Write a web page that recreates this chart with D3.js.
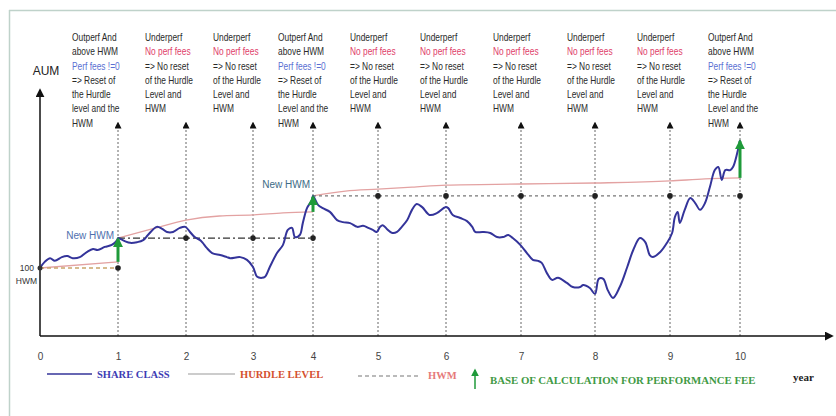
<!DOCTYPE html>
<html><head><meta charset="utf-8">
<script src="https://cdn.jsdelivr.net/npm/d3@7"></script>
<style>
html,body{margin:0;padding:0;background:#fff;}
svg{display:block;}
</style></head>
<body>
<svg id="chart" width="836" height="416"></svg>
<script>
// ---------------- DATA ----------------
const years = [0,1,2,3,4,5,6,7,8,9,10];
const tickLabels = ["0","1","2","3","4","5","6","7","8","9","10"];

const shareClassT = [0,0.06,0.13,0.19,0.28,0.35,0.42,0.51,0.60,0.68,0.74,0.83,0.92,0.99,1.0,
 1.10,1.18,1.28,1.37,1.44,1.57,1.65,1.72,1.81,1.91,1.99,
 2.06,2.13,2.21,2.25,2.31,2.39,2.51,2.61,2.66,2.81,2.91,3.0,
 3.07,3.15,3.20,3.28,3.40,3.50,3.58,3.65,3.70,3.78,3.83,3.90,3.98,4.0,
 4.08,4.15,4.26,4.37,4.46,4.57,4.68,4.77,4.85,4.92,4.98,
 5.03,5.07,5.13,5.21,5.28,5.35,5.43,5.50,5.57,5.65,5.76,5.87,5.99,
 6.03,6.09,6.19,6.28,6.35,6.39,6.49,6.59,6.68,6.76,6.83,6.89,6.99,
 7.08,7.16,7.23,7.28,7.35,7.42,7.50,7.62,7.70,7.80,7.84,7.93,8.0,
 8.05,8.11,8.17,8.24,8.33,8.43,8.51,8.60,8.67,8.73,8.77,8.87,8.96,
 9.03,9.07,9.11,9.14,9.21,9.29,9.36,9.43,9.50,9.57,9.64,9.69,9.74,9.79,9.86,9.90,9.96,10.0];
const shareClassV = [100.0,101.8,102.9,102.1,103.2,103.5,102.9,103.2,104.7,105.6,105.3,106.2,106.8,108.2,108.8,
 107.9,107.4,107.6,108.2,109.7,112.1,111.5,110.6,110.6,111.8,112.1,
 110.6,109.1,108.2,107.4,105.9,104.4,103.8,103.2,102.9,103.2,102.4,100.3,
 97.4,97.1,97.4,100.3,104.4,106.8,111.2,111.8,109.1,109.7,113.2,117.6,119.9,121.2,
 118.5,117.6,116.5,114.1,113.5,113.2,112.1,112.4,111.8,111.2,110.6,
 112.1,112.6,111.5,110.3,110.6,112.1,114.1,117.1,118.8,117.9,115.6,116.2,117.9,
 117.6,115.6,114.7,113.8,112.1,110.6,110.6,110.3,109.1,109.1,109.7,108.8,106.8,
 104.4,102.4,102.1,101.5,98.5,96.5,97.1,95.6,94.4,94.4,95.0,94.1,92.4,
 96.8,96.8,93.5,91.2,94.4,100.3,105.3,108.8,107.6,103.8,103.2,104.7,107.4,
 110.3,115.0,116.5,113.2,117.1,120.6,119.1,117.1,119.1,123.8,128.8,129.7,125.9,128.8,128.8,129.7,133.8,137.6];

// hurdle level (null = reset break)
const hurdleT = [0,1,1, 1,1.5,2,2.5,3,3.5,4,4, 4,4.5,5,5.5,6,7,8,9,9.5,10];
const hurdleV = [100,101.8,null, 108.8,111.5,114.1,115.3,115.6,116.2,116.5,null, 121.2,122.6,123.2,123.8,124.4,124.7,125.0,125.6,126.2,126.5];

// high water mark segments
const hwmStart = [0,1,4];
const hwmEnd   = [1,4,10];
const hwmValue = [100,108.8,121.2];

// base of calculation for performance fee
const perfFeeYears = [1,4,10];
const perfFeeFrom  = [101.8,116.5,126.5];
const perfFeeTo    = [108.8,121.2,137.6];

// annotations per year
const annYears = [1,2,3,4,5,6,7,8,9,10];
const annType  = ["out","under","under","out","under","under","under","under","under","out"];
const outLines1 = ["Outperf And","above HWM","Perf fees !=0","=> Reset of","the Hurdle","level and the","HWM"];
const outLines  = ["Outperf And","above HWM","Perf fees !=0","=> Reset of","the Hurdle","Level and the","HWM"];
const underLines= ["Underperf","No perf fees","=> No reset","of the Hurdle","Level and","HWM"];

const legendLabels = ["SHARE CLASS","HURDLE LEVEL","HWM","BASE OF CALCULATION FOR PERFORMANCE FEE"];

// ---------------- LAYOUT ----------------
const yearPx = [40,118,186,253,313,378,446,521,595,670,740];
const annOffset = [-46,-41,-40,-35,-28,-26,-28,-28,-33,-32];
const axisY = 336, axisTop = 98;

const svg = d3.select("#chart");
const x = d3.scaleLinear().domain(years).range(yearPx);
const y = d3.scaleLinear().domain([80,150]).range([axisY, axisTop]);

const C = {blue:"#34349a", hurdle:"#e3a2a2", green:"#1f9a3a", grid:"#666"};
const sans = "Liberation Sans, Arial, sans-serif";

// frame
svg.append("line").attr("x1",9).attr("x2",836).attr("y1",10.5).attr("y2",10.5).attr("stroke","#bfd2ca").attr("stroke-width",1.5);
svg.append("line").attr("x1",9.5).attr("x2",9.5).attr("y1",10).attr("y2",416).attr("stroke","#bfd2ca").attr("stroke-width",1.5);

// arrowhead markers (point along +x, oriented by line direction)
const defs = svg.append("defs");
function marker(id, fill, size){
  defs.append("marker").attr("id",id).attr("viewBox","0 0 10 10").attr("refX",8).attr("refY",5)
    .attr("markerWidth",size).attr("markerHeight",size).attr("orient","auto").attr("markerUnits","userSpaceOnUse")
    .append("path").attr("d","M0,0 L10,5 L0,10 Z").attr("fill",fill);
}
marker("ahBlack","#111",7);
marker("ahAxis","#111",9);
marker("ahGreen",C.green,10);
marker("ahGreenS",C.green,8);

// vertical dotted year lines with arrowheads
svg.append("g").selectAll("line").data(annYears).join("line")
  .attr("x1",d=>x(d)).attr("x2",d=>x(d)).attr("y1",axisY).attr("y2",123)
  .attr("stroke",C.grid).attr("stroke-width",1).attr("stroke-dasharray","2,2")
  .attr("marker-end","url(#ahBlack)");

// axes
svg.append("line").attr("x1",x(0)).attr("x2",832).attr("y1",axisY).attr("y2",axisY)
  .attr("stroke","#111").attr("stroke-width",1.5).attr("marker-end","url(#ahAxis)");
svg.append("line").attr("x1",x(0)).attr("x2",x(0)).attr("y1",axisY).attr("y2",90)
  .attr("stroke","#111").attr("stroke-width",1.5).attr("marker-end","url(#ahAxis)");

const xAxis = d3.axisBottom(x).tickValues(years).tickFormat((d,i)=>tickLabels[i]).tickSize(0).tickPadding(17);
const gx = svg.append("g").attr("transform",`translate(0,${axisY})`).call(xAxis);
gx.select(".domain").remove();
gx.selectAll("text").attr("font-family",sans).attr("font-size",10).attr("fill","#444");

svg.append("text").attr("x",x(0)+6).attr("y",75).attr("text-anchor","middle")
  .attr("font-family",sans).attr("font-size",12).attr("fill","#222").text("AUM");
svg.append("text").attr("x",x(0)-6).attr("y",y(100)+3).attr("text-anchor","end")
  .attr("font-family",sans).attr("font-size",8.5).attr("fill","#333").text("100");
svg.append("text").attr("x",x(0)-3).attr("y",y(100)+16).attr("text-anchor","end")
  .attr("font-family",sans).attr("font-size",8.5).attr("fill","#333").text("HWM");

// hurdle level
const hurdleData = hurdleT.map((t,i)=>({t, v:hurdleV[i]}));
svg.append("path").datum(hurdleData)
  .attr("d", d3.line().defined(d=>d.v!=null).x(d=>x(d.t)).y(d=>y(d.v)).curve(d3.curveMonotoneX))
  .attr("fill","none").attr("stroke",C.hurdle).attr("stroke-width",1.3);

// HWM segments
const hwmStyles = [{c:"#c9a46a",da:"4,3"},{c:"#333",da:"7,3,2,3"},{c:"#777",da:"3,3"}];
svg.append("g").selectAll("line").data(hwmValue).join("line")
  .attr("x1",(d,i)=>x(hwmStart[i])).attr("x2",(d,i)=>x(hwmEnd[i]))
  .attr("y1",d=>y(d)).attr("y2",d=>y(d))
  .attr("stroke",(d,i)=>hwmStyles[i].c).attr("stroke-width",1.3).attr("stroke-dasharray",(d,i)=>hwmStyles[i].da);
const hwmDots = [];
hwmValue.forEach((v,i)=>{ for(let yr=hwmStart[i]+1; yr<=hwmEnd[i]; yr++) hwmDots.push({t:yr,v}); });
svg.append("g").selectAll("circle").data(hwmDots).join("circle")
  .attr("cx",d=>x(d.t)).attr("cy",d=>y(d.v)).attr("r",2.8).attr("fill","#222");

// share class line
const scData = shareClassT.map((t,i)=>({t, v:shareClassV[i]}));
svg.append("path").datum(scData)
  .attr("d", d3.line().x(d=>x(d.t)).y(d=>y(d.v)).curve(d3.curveCatmullRom.alpha(0.5)))
  .attr("fill","none").attr("stroke",C.blue).attr("stroke-width",2).attr("stroke-linejoin","round");
svg.append("circle").attr("cx",x(0)).attr("cy",y(100)).attr("r",2.5).attr("fill","#333");

// perf fee arrows
svg.append("g").selectAll("line").data(perfFeeYears).join("line")
  .attr("x1",d=>x(d)).attr("x2",d=>x(d))
  .attr("y1",(d,i)=>y(perfFeeFrom[i])).attr("y2",(d,i)=>y(perfFeeTo[i])+1)
  .attr("stroke",C.green).attr("stroke-width",3).attr("marker-end","url(#ahGreen)");

// New HWM labels
svg.append("text").attr("x",x(1)-4).attr("y",y(108.8)+1).attr("text-anchor","end")
  .attr("font-family",sans).attr("font-size",10).attr("fill","#4f6fae").text("New HWM");
svg.append("text").attr("x",x(4)-3).attr("y",y(121.2)-8).attr("text-anchor","end")
  .attr("font-family",sans).attr("font-size",10).attr("fill","#3d6b86").text("New HWM");

// annotations (condensed)
annYears.forEach((yr,i)=>{
  const lines = annType[i]==="out" ? (i===0?outLines1:outLines) : underLines;
  const g = svg.append("g").attr("transform",`translate(${x(yr)+annOffset[i]},0) scale(0.79,1)`);
  const t = g.append("text").attr("font-family",sans).attr("font-size",10.6);
  lines.forEach((ln,j)=>{
    let col = "#2a2a2a";
    if(annType[i]==="out" && j===2) col = "#5a6fd2";
    if(annType[i]==="under" && j===1) col = "#e0406a";
    t.append("tspan").attr("x",0).attr("y",41+j*14.3).attr("fill",col).text(ln);
  });
});

// legend
const legY = 374;
const serif = "Liberation Serif, Times New Roman, serif";
svg.append("line").attr("x1",47).attr("x2",92).attr("y1",legY).attr("y2",legY).attr("stroke",C.blue).attr("stroke-width",1.5);
svg.append("text").attr("x",97).attr("y",legY+4).attr("font-family",serif).attr("font-weight","bold").attr("font-size",10.5).attr("fill","#3c3cb4").text(legendLabels[0]);
svg.append("line").attr("x1",188).attr("x2",235).attr("y1",legY).attr("y2",legY).attr("stroke","#999").attr("stroke-width",1.2);
svg.append("text").attr("x",240).attr("y",legY+4).attr("font-family",serif).attr("font-weight","bold").attr("font-size",10.5).attr("fill","#d4502e").text(legendLabels[1]);
svg.append("line").attr("x1",358).attr("x2",418).attr("y1",legY+2).attr("y2",legY+2).attr("stroke","#777").attr("stroke-width",1.2).attr("stroke-dasharray","4,3");
svg.append("text").attr("x",428).attr("y",legY+5).attr("font-family",serif).attr("font-weight","bold").attr("font-size",10.5).attr("fill","#e67a7a").text(legendLabels[2]);
svg.append("line").attr("x1",475).attr("x2",475).attr("y1",389).attr("y2",370).attr("stroke",C.green).attr("stroke-width",1.5)
  .attr("marker-end","url(#ahGreenS)");
svg.append("text").attr("x",490).attr("y",384).attr("font-family",serif).attr("font-weight","bold").attr("font-size",10.8).attr("fill","#3f9a45").text(legendLabels[3]);
svg.append("text").attr("x",793).attr("y",381).attr("font-family",serif).attr("font-weight","bold").attr("font-size",11).attr("fill","#222").text("year");
</script>
</body></html>
